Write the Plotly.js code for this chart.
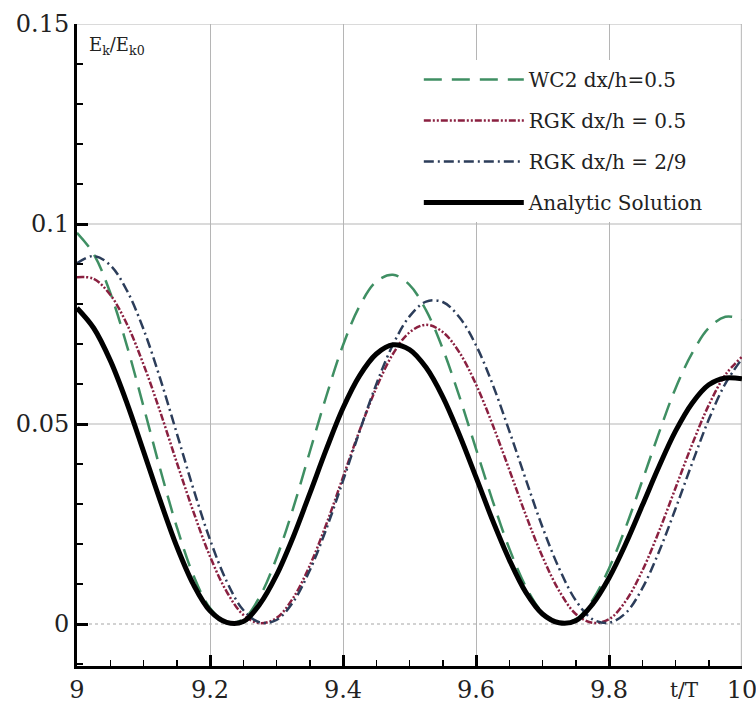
<!DOCTYPE html>
<html><head><meta charset="utf-8">
<script src="https://cdn.plot.ly/plotly-3.0.1.min.js"></script>
<style>html,body{margin:0;padding:0;background:#fff;} #chart{width:756px;height:712px;}</style>
</head><body><div id="chart"></div>
<script>
const tValues = [9,9.025,9.05,9.075,9.1,9.125,9.15,9.175,9.2,9.225,9.25,9.275,9.3,9.325,9.35,9.375,9.4,9.425,9.45,9.475,9.5,9.525,9.55,9.575,9.6,9.625,9.65,9.675,9.7,9.725,9.75,9.775,9.8,9.825,9.85,9.875,9.9,9.925,9.95,9.975,10];

const wc2Half = [0.0978,0.0925,0.0828,0.0696,0.0544,0.0388,0.0243,0.0122,0.004,0.0004,0.0012,0.0069,0.0165,0.0289,0.043,0.057,0.0697,0.0795,0.0856,0.0873,0.0848,0.0784,0.0688,0.0569,0.0438,0.0308,0.0189,0.0093,0.0029,0.0003,0.0012,0.0059,0.0139,0.0241,0.0358,0.0477,0.0589,0.0677,0.074,0.0768,0.0762];

const rgkHalf = [0.0867,0.0863,0.0823,0.075,0.0649,0.0531,0.0404,0.0281,0.0169,0.0081,0.0023,0.0002,0.0015,0.0065,0.0146,0.025,0.0367,0.0484,0.059,0.0675,0.0729,0.0748,0.073,0.0679,0.0599,0.0498,0.0386,0.0272,0.0168,0.0083,0.0025,0.0003,0.0012,0.0057,0.0133,0.0231,0.034,0.0449,0.0547,0.0623,0.0668];

const rgkTwoNinths = [0.0902,0.092,0.0897,0.0834,0.0737,0.0614,0.0477,0.0338,0.0211,0.0107,0.0035,0.0004,0.001,0.0055,0.0134,0.0238,0.0358,0.0482,0.0599,0.0698,0.0769,0.0806,0.0805,0.0767,0.0697,0.0599,0.0483,0.0361,0.0242,0.0139,0.0059,0.0012,0.0003,0.0027,0.0089,0.018,0.0288,0.0402,0.0511,0.0601,0.0663];

const analytic = [0.079,0.074,0.0659,0.0553,0.0432,0.0309,0.0194,0.0099,0.0033,0.0004,0.0006,0.005,0.0122,0.0217,0.0326,0.0437,0.054,0.0621,0.0675,0.0698,0.0686,0.0641,0.0568,0.0473,0.0367,0.0259,0.0161,0.0079,0.0025,0.0003,0.0008,0.0049,0.0115,0.02,0.0296,0.0393,0.0482,0.0552,0.0598,0.0615,0.0613];

const seriesNames = ['WC2 dx/h=0.5', 'RGK dx/h = 0.5', 'RGK dx/h = 2/9', 'Analytic Solution'];
const xTickVals = [9, 9.2, 9.4, 9.6, 9.8, 10];
const xTickText = ['9', '9.2', '9.4', '9.6', '9.8', '10'];
const yTickVals = [0, 0.05, 0.1, 0.15];
const yTickText = ['0', '0.05', '0.1', '0.15'];
const yGridSolid = [0.05, 0.1, 0.15];

const serif = 'DejaVu Serif, Liberation Serif, serif';
const gridColor = '#b5b5b5';

const traces = [
  {x: tValues, y: wc2Half, name: seriesNames[0], legendgroup: 'a', mode: 'lines',
   line: {color: '#3f8f63', width: 2.5, dash: '18px,10px', shape: 'spline', smoothing: 1}},
  {x: tValues, y: rgkHalf, name: seriesNames[1], legendgroup: 'b', mode: 'lines',
   line: {color: '#8a2040', width: 2.5, dash: '7px,2px,2px,2px,2px,2px', shape: 'spline', smoothing: 1}},
  {x: tValues, y: rgkTwoNinths, name: seriesNames[2], legendgroup: 'c', mode: 'lines',
   line: {color: '#2c3d5a', width: 2.5, dash: '10px,4px,2px,4px', shape: 'spline', smoothing: 1}},
  {x: tValues, y: analytic, name: seriesNames[3], legendgroup: 'd', mode: 'lines',
   line: {color: '#000000', width: 5, shape: 'spline', smoothing: 1}}
];

const shapes = yGridSolid.map(v => ({type: 'line', layer: 'below', xref: 'paper', yref: 'y',
  x0: 0, x1: 1, y0: v, y1: v, line: {color: gridColor, width: 1}}));
shapes.push({type: 'line', layer: 'below', xref: 'paper', yref: 'y', x0: 0, x1: 1, y0: 0, y1: 0,
  line: {color: '#c4c4c4', width: 1.5, dash: 'dot'}});
shapes.push({type: 'line', layer: 'below', xref: 'paper', yref: 'paper', x0: 0.999, x1: 0.999, y0: 0, y1: 1,
  line: {color: gridColor, width: 1}});

const layout = {
  width: 756, height: 712,
  margin: {l: 77, r: 14, t: 24, b: 46, pad: 0},
  paper_bgcolor: '#ffffff', plot_bgcolor: '#ffffff',
  showlegend: true,
  legend: {x: 0.514, y: 0.944, xanchor: 'left', yanchor: 'top', bgcolor: '#ffffff',
           borderwidth: 0, font: {family: serif, size: 20, color: '#222'},
           tracegroupgap: 12, itemwidth: 100},
  xaxis: {range: [9, 10], tickvals: xTickVals, ticktext: xTickText,
          showline: true, linecolor: '#000', linewidth: 3,
          ticks: 'inside', ticklen: 11, tickwidth: 3, tickcolor: '#000',
          showgrid: true, gridcolor: gridColor, gridwidth: 1, zeroline: false,
          ticklabeloverflow: 'allow',
          tickfont: {family: serif, size: 24, color: '#222'},
          minor: {dtick: 0.05, tick0: 9, ticks: 'inside', ticklen: 6, tickwidth: 1.5, tickcolor: '#000', showgrid: false}},
  yaxis: {range: [-0.0105, 0.15], tickvals: yTickVals, ticktext: yTickText,
          showline: true, linecolor: '#000', linewidth: 3,
          ticks: 'inside', ticklen: 11, tickwidth: 3, tickcolor: '#000',
          showgrid: false, zeroline: false,
          tickfont: {family: serif, size: 24, color: '#222'},
          minor: {dtick: 0.01, tick0: 0, ticks: 'inside', ticklen: 6, tickwidth: 1.5, tickcolor: '#000', showgrid: false}},
  shapes: shapes,
  annotations: [
    {text: 'E<sub>k</sub>/E<sub>k0</sub>', xref: 'paper', yref: 'paper', x: 0.015, y: 0.965,
     xanchor: 'left', yanchor: 'middle', showarrow: false, font: {family: serif, size: 18, color: '#222'}},
    {text: 't/T', xref: 'paper', yref: 'paper', x: 0.888, y: -0.037,
     xanchor: 'left', yanchor: 'middle', showarrow: false, font: {family: serif, size: 20, color: '#222'}}
  ]
};

Plotly.newPlot('chart', traces, layout, {displayModeBar: false, staticPlot: true});
</script>
</body></html>
